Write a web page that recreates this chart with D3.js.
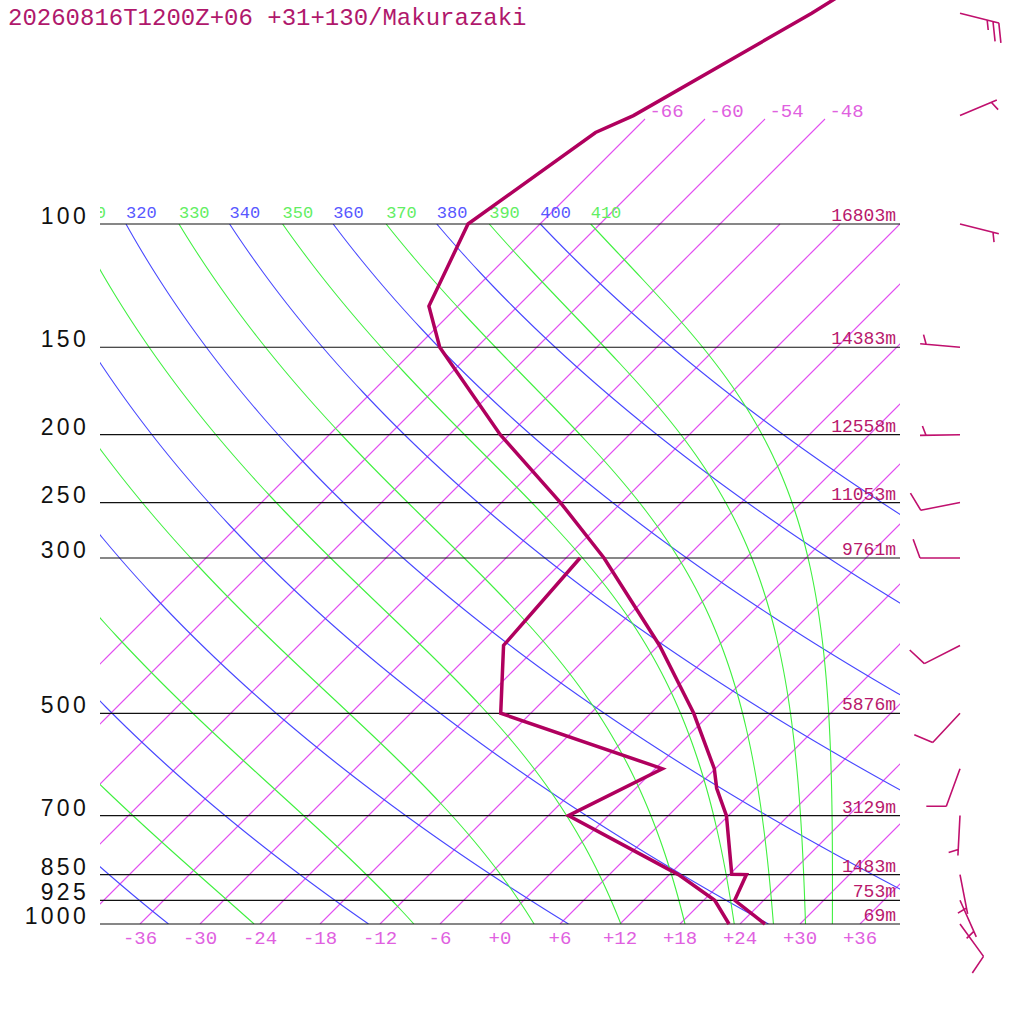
<!DOCTYPE html>
<html>
<head>
<meta charset="utf-8">
<script src="https://cdn.jsdelivr.net/npm/d3@7/dist/d3.min.js"></script>
<style>
body{margin:0;background:#fff;}
svg{display:block;}
</style>
</head>
<body>
<div id="chart"></div>
<script>

var title = "20260816T1200Z+06 +31+130/Makurazaki";

// temperature and dew point profile (hPa, degC)
var tempP = [1000, 925, 850, 849, 700, 640, 600, 500, 400, 300, 250, 200, 150, 131, 100, 74, 70, 50, 30];
var tempC = [26.5, 21.1, 19.7, 18.2, 11.8, 8.1, 5.9, -1.7, -11.9, -26.2, -36.1, -48.9, -63.7, -68.9, -73.2, -69.6, -67.5, -59.9, -50.6];
var dewP = [1000, 925, 850, 700, 600, 500, 400, 300];
var dewC = [22.9, 19.1, 12.9, -4.0, 0.7, -21.0, -27.5, -28.6];

// standard levels and geopotential heights
var levels = [1000, 925, 850, 700, 500, 300, 250, 200, 150, 100];
var heights = ["69m", "753m", "1483m", "3129m", "5876m", "9761m", "11053m", "12558m", "14383m", "16803m"];

// winds (direction deg, speed kt)
var windP = [1000, 925, 850, 700, 600, 500, 400, 300, 250, 200, 150, 100, 70, 50];
var windDir = [144, 156, 169, 183, 200, 223, 243, 270, 259, 269, 275, 104, 67, 104];
var windKt = [10, 5, 5, 5, 10, 10, 10, 10, 10, 5, 5, 5, 5, 25];

// background lines
var isotherms = [-66, -60, -54, -48, -42, -36, -30, -24, -18, -12, -6, 0, 6, 12, 18, 24, 30, 36];
var isoBottomLabels = ["-36", "-30", "-24", "-18", "-12", "-6", "+0", "+6", "+12", "+18", "+24", "+30", "+36"];
var isoBottomT = [-36, -30, -24, -18, -12, -6, 0, 6, 12, 18, 24, 30, 36];
var isoTopT = [-66, -60, -54, -48];   // these run up to 70 hPa
var dryTheta = [240, 260, 280, 300, 320, 340, 360, 380, 400];
var moistThetaE = [250, 270, 290, 310, 330, 350, 370, 390, 410];


function SkewT(){
    var self = this;
    self.init();
};

SkewT.prototype.init = function(){
    var self = this;
    self.width = 1024;
    self.height = 1024;
    self.left = 100;
    self.right = 900;

    self.svg = d3.select("#chart").append("svg")
        .attr("width", self.width)
        .attr("height", self.height);

    // log pressure on y, temperature skewed 45 degrees
    self.y = d3.scaleLog().domain([1000, 100]).range([924, 224]);
    self.xT = d3.scaleLinear().domain([-36, 36]).range([140, 860]);

    var defs = self.svg.append("defs");
    defs.append("clipPath").attr("id", "plotclip")
        .append("rect")
        .attr("x", self.left).attr("y", self.y(100))
        .attr("width", self.right - self.left).attr("height", self.y(1000) - self.y(100));
    defs.append("clipPath").attr("id", "topclip")
        .append("rect")
        .attr("x", self.left).attr("y", 0)
        .attr("width", self.right - self.left).attr("height", self.y(1000));
};

SkewT.prototype.X = function(t, p){
    var self = this;
    return self.xT(t) + (self.y(1000) - self.y(p));
};

// saturated equivalent potential temperature (Bolton 1980)
function thetaE(tk, p){
    var tc = tk - 273.15;
    var e = 6.112 * Math.exp(17.67 * tc / (tc + 243.5));
    var r = 622 * e / (p - e);
    return tk * Math.pow(1000 / p, 0.2854 * (1 - 0.00028 * r)) *
        Math.exp((3.376 / tk - 0.00254) * r * (1 + 0.00081 * r));
}

function moistT(te, p){
    var lo = 150, hi = 330;
    for (var i = 0; i < 50; i++){
        var mid = (lo + hi) / 2;
        if (thetaE(mid, p) < te) lo = mid; else hi = mid;
    }
    return (lo + hi) / 2 - 273.15;
}

SkewT.prototype.update = function(){
    var self = this;
    var svg = self.svg;
    var y = self.y;
    var mono = "'Liberation Mono', 'DejaVu Sans Mono', monospace";

    var pres = d3.range(0, 101).map(function(i){ return 1000 * Math.pow(0.1, i / 100); });
    var presTop = d3.range(0, 116).map(function(i){ return 1000 * Math.pow(0.1, i / 100); });

    var line = d3.line()
        .x(function(d){ return self.X(d[0], d[1]); })
        .y(function(d){ return y(d[1]); });

    // isotherms (as polylines, a bare 1px diagonal renders grey here)
    var isoG = svg.append("g").attr("clip-path", "url(#topclip)");
    isoG.selectAll(".iso").data(isotherms).enter().append("path")
        .attr("class", "iso")
        .attr("d", function(t){
            var ps = isoTopT.indexOf(t) >= 0 ? presTop : pres;
            return line(ps.map(function(p){ return [t, p]; }));
        })
        .attr("fill", "none")
        .attr("stroke", "rgb(226,80,240)")
        .attr("stroke-width", 1.1);

    var bg = svg.append("g").attr("clip-path", "url(#plotclip)");

    // dry adiabats
    bg.selectAll(".dry").data(dryTheta).enter().append("path")
        .attr("class", "dry")
        .attr("d", function(th){
            return line(pres.map(function(p){ return [th * Math.pow(p / 1000, 0.2857) - 273.15, p]; }));
        })
        .attr("fill", "none")
        .attr("stroke", "rgb(72,72,255)")
        .attr("stroke-width", 1.1);

    // pseudo adiabats
    self.moist = moistThetaE.map(function(te){
        return pres.map(function(p){ return [moistT(te, p), p]; });
    });
    bg.selectAll(".moist").data(self.moist).enter().append("path")
        .attr("class", "moist")
        .attr("d", line)
        .attr("fill", "none")
        .attr("stroke", "rgb(64,240,64)")
        .attr("stroke-width", 1.1);

    // pressure lines
    svg.selectAll(".plev").data(levels).enter().append("line")
        .attr("class", "plev")
        .attr("x1", self.left).attr("x2", self.right)
        .attr("y1", function(p){ return y(p); })
        .attr("y2", function(p){ return y(p); })
        .attr("stroke", "#111")
        .attr("stroke-width", 1.2);

    svg.selectAll(".plab").data(levels).enter().append("text")
        .attr("class", "plab")
        .attr("x", 89)
        .attr("y", function(p){ return y(p); })
        .attr("text-anchor", "end")
        .style("font-family", "'Liberation Sans', Arial, sans-serif")
        .style("font-size", "23px")
        .style("letter-spacing", "3.3px")
        .attr("fill", "#111")
        .text(function(p){ return p; });

    svg.selectAll(".hlab").data(levels).enter().append("text")
        .attr("class", "hlab")
        .attr("x", 896)
        .attr("y", function(p){ return y(p) - 3; })
        .attr("text-anchor", "end")
        .style("font-family", mono)
        .style("font-size", "18px")
        .attr("fill", "#b8186c")
        .text(function(p, i){ return heights[i]; });

    // labels along the 100 hPa line, only where the line top is near the plot
    var topLab = svg.append("g").attr("clip-path", "url(#topclip)")
        .style("font-family", mono)
        .style("font-size", "17px");
    var dryLab = dryTheta.map(function(th){
        return {v: th, x: self.X(th * Math.pow(0.1, 0.2857) - 273.15, 100)};
    }).filter(function(d){ return d.x > 60; });
    var moistLab = moistThetaE.map(function(te){
        return {v: te, x: self.X(moistT(te, 100), 100)};
    }).filter(function(d){ return d.x > 60; });

    topLab.selectAll(".dlab").data(dryLab).enter().append("text")
        .attr("x", function(d){ return d.x; })
        .attr("y", y(100) - 6)
        .attr("fill", "#5858ff")
        .text(function(d){ return d.v; });
    topLab.selectAll(".mlab").data(moistLab).enter().append("text")
        .attr("x", function(d){ return d.x; })
        .attr("y", y(100) - 6)
        .attr("fill", "#62ee62")
        .text(function(d){ return d.v; });

    topLab.selectAll(".itop").data(isoTopT).enter().append("text")
        .attr("x", function(t){ return self.X(t, 70) + 1; })
        .attr("y", y(70) + 1)
        .style("font-size", "19px")
        .attr("fill", "#e060e0")
        .text(function(t){ return t; });

    svg.selectAll(".ibot").data(isoBottomT).enter().append("text")
        .attr("x", function(t){ return self.X(t, 1000); })
        .attr("y", 944)
        .attr("text-anchor", "middle")
        .style("font-family", mono)
        .style("font-size", "19px")
        .attr("fill", "#e060e0")
        .text(function(t, i){ return isoBottomLabels[i]; });

    // sounding
    var temp = tempP.map(function(p, i){ return [tempC[i], p]; });
    var dew = dewP.map(function(p, i){ return [dewC[i], p]; });
    svg.selectAll(".snd").data([temp, dew]).enter().append("path")
        .attr("class", "snd")
        .attr("d", line)
        .attr("fill", "none")
        .attr("stroke", "#b0005e")
        .attr("stroke-width", 3.5)
        .attr("stroke-linejoin", "miter");

    // wind barbs
    var staff = 40, full = 20, half = 10, gap = 6;
    var rot = 70 * Math.PI / 180;
    var barbs = svg.append("g")
        .attr("stroke", "#c0106e")
        .attr("stroke-width", 1.6)
        .attr("fill", "none");
    windP.forEach(function(p, i){
        var a = windDir[i] * Math.PI / 180;
        var ux = Math.sin(a), uy = -Math.cos(a);
        var nx = ux * Math.cos(rot) - uy * Math.sin(rot);
        var ny = ux * Math.sin(rot) + uy * Math.cos(rot);
        var ox = 960, oy = y(p);
        var tx = ox + staff * ux, ty = oy + staff * uy;
        var path = d3.path();
        path.moveTo(ox, oy);
        path.lineTo(tx, ty);
        var kt = windKt[i];
        var pos = 0;
        var nf = Math.floor(kt / 10), nh = Math.round((kt % 10) / 5);
        for (var k = 0; k < nf; k++){
            var sx = tx - pos * ux, sy = ty - pos * uy;
            path.moveTo(sx, sy);
            path.lineTo(sx + full * nx, sy + full * ny);
            pos += gap;
        }
        for (var h = 0; h < nh; h++){
            if (pos == 0) pos = gap;
            var hx = tx - pos * ux, hy = ty - pos * uy;
            path.moveTo(hx, hy);
            path.lineTo(hx + half * nx, hy + half * ny);
            pos += gap;
        }
        barbs.append("path").attr("d", path.toString());
    });

    svg.append("text")
        .attr("x", 8)
        .attr("y", 25)
        .style("font-family", mono)
        .style("font-size", "24px")
        .attr("fill", "#b0186c")
        .text(title);
};

var chart = new SkewT();
chart.update();

</script>
</body>
</html>
